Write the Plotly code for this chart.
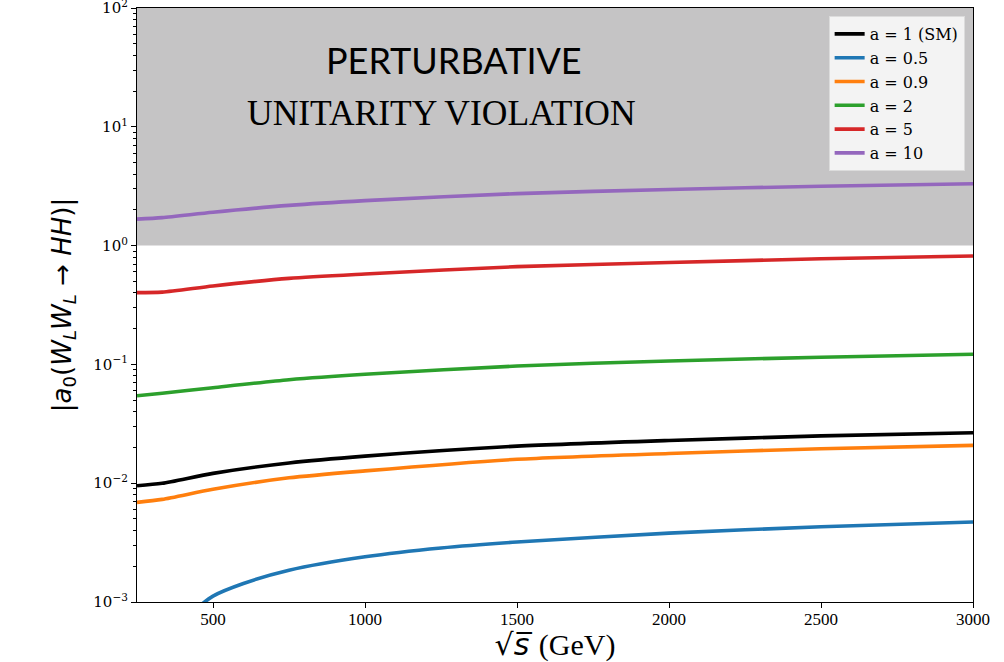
import plotly.graph_objects as go

# Centre-of-mass energy grid (GeV)
sqrt_s = [250, 333, 500, 750, 1000, 1500, 2000, 2500, 3000]

# |a0(W_L W_L -> HH)| for each value of the coupling a
a0_sm = [0.00952, 0.00998, 0.0121, 0.0148, 0.0169, 0.0205, 0.0229, 0.0250, 0.0266]
a0_0p9 = [0.0069, 0.00731, 0.00889, 0.0111, 0.0127, 0.0159, 0.0178, 0.0195, 0.0208]
a0_2 = [0.0545, 0.0572, 0.0637, 0.0743, 0.0826, 0.0970, 0.1068, 0.1150, 0.1216]
a0_5 = [0.402, 0.406, 0.457, 0.530, 0.577, 0.665, 0.720, 0.775, 0.818]
a0_10 = [1.67, 1.72, 1.91, 2.18, 2.39, 2.74, 2.97, 3.16, 3.32]

# a = 0.5 only rises above 1e-3 from ~470 GeV
sqrt_s_0p5 = [420, 500, 600, 750, 1000, 1250, 1500, 2000, 2500, 3000]
a0_0p5 = [0.00078, 0.00112, 0.00143, 0.00185, 0.00240, 0.00285, 0.00320, 0.00380, 0.00430, 0.00471]

# Perturbative unitarity bound and top of the plotted range
bound_low = 1.0
bound_high = 100.0

series = [
    ("a = 1 (SM)", sqrt_s, a0_sm, "#000000"),
    ("a = 0.5", sqrt_s_0p5, a0_0p5, "#1f77b4"),
    ("a = 0.9", sqrt_s, a0_0p9, "#ff7f0e"),
    ("a = 2", sqrt_s, a0_2, "#2ca02c"),
    ("a = 5", sqrt_s, a0_5, "#d62728"),
    ("a = 10", sqrt_s, a0_10, "#9467bd"),
]

fig = go.Figure()

# Shaded region where |a0| exceeds the unitarity bound
fig.add_trace(go.Scatter(
    x=[sqrt_s[0], sqrt_s[-1], sqrt_s[-1], sqrt_s[0]],
    y=[bound_low, bound_low, bound_high, bound_high],
    fill="toself", fillcolor="rgb(197,196,197)",
    line=dict(width=0), mode="lines",
    showlegend=False, hoverinfo="skip",
))

for name, xs, ys, color in series:
    fig.add_trace(go.Scatter(
        x=xs, y=ys, name=name, mode="lines",
        line=dict(color=color, width=3.6, shape="spline", smoothing=0.7),
    ))

fig.add_annotation(
    text="PERTURBATIVE", xref="paper", yref="paper", x=0.379, y=0.9125,
    xanchor="center", yanchor="middle",
    showarrow=False, font=dict(family="Lato", size=36, color="black"),
)
fig.add_annotation(
    text="UNITARITY VIOLATION", xref="paper", yref="paper", x=0.364, y=0.824,
    xanchor="center", yanchor="middle",
    showarrow=False, font=dict(family="Liberation Serif", size=35.5, color="black"),
)

ytickvals = [1e-3, 1e-2, 1e-1, 1e0, 1e1, 1e2]
yticktext = ["10<sup>\u22123</sup>", "10<sup>\u22122</sup>", "10<sup>\u22121</sup>",
             "10<sup>0</sup>", "10<sup>1</sup>", "10<sup>2</sup>"]

fig.update_layout(
    width=1004, height=662,
    margin=dict(l=137, r=31, t=8, b=60),
    plot_bgcolor="white", paper_bgcolor="white",
    showlegend=True,
    legend=dict(
        x=0.990, y=0.9865, xanchor="right", yanchor="top",
        bgcolor="rgb(243,243,243)", bordercolor="rgb(220,220,220)", borderwidth=1,
        font=dict(family="DejaVu Serif", size=16, color="black"),
        tracegroupgap=0,
    ),
    xaxis=dict(
        range=[250, 3000], tickvals=[500, 1000, 1500, 2000, 2500, 3000],
        automargin=False, ticklabelstandoff=-4,
        ticks="outside", ticklen=5, tickwidth=1, tickcolor="black",
        showline=True, linecolor="black", linewidth=1.2, mirror=True,
        showgrid=False, zeroline=False,
        tickfont=dict(family="Liberation Serif", size=17, color="black"),
        title=dict(
            text="\u221a<i>s\u0305</i> <span style='font-family:Liberation Serif'>(GeV)</span>",
            standoff=9, font=dict(family="DejaVu Sans", size=30, color="black")),
    ),
    yaxis=dict(
        type="log", range=[-3, 2], tickvals=ytickvals, ticktext=yticktext,
        ticklabeloverflow="allow", automargin=False,
        ticks="outside", ticklen=5, tickwidth=1, tickcolor="black",
        minor=dict(ticks="outside", ticklen=2.5, tickwidth=1, tickcolor="black",
                   dtick="D1", showgrid=False),
        showline=True, linecolor="black", linewidth=1.2, mirror=True,
        showgrid=False, zeroline=False,
        tickfont=dict(family="DejaVu Serif", size=15, color="black"),
        title=dict(
            text="|<i>a</i><sub>0</sub>(<i>W</i><sub><i>L</i></sub><i>W</i><sub><i>L</i></sub> \u2192 <i>HH</i>)|",
            standoff=14, font=dict(family="DejaVu Sans", size=26, color="black")),
    ),
)

fig.write_html("out.html")
